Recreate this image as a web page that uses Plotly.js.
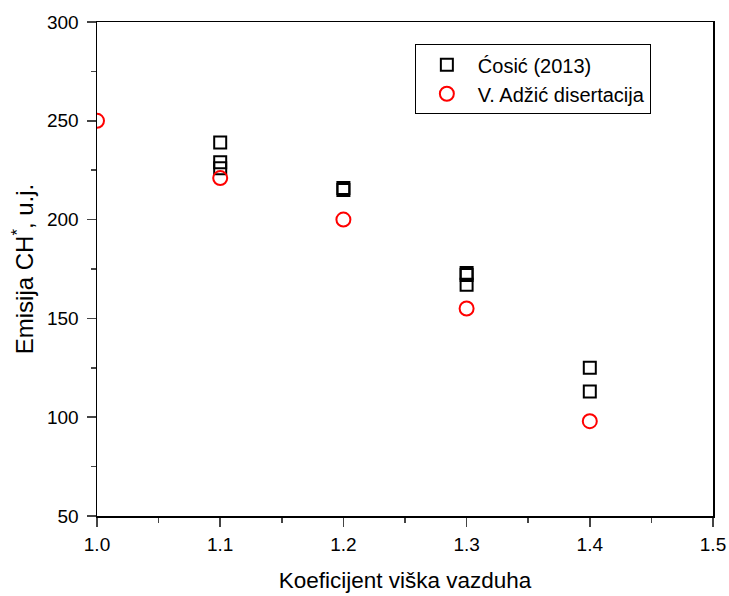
<!DOCTYPE html>
<html>
<head>
<meta charset="utf-8">
<script src="https://cdn.plot.ly/plotly-3.0.1.min.js"></script>
<style>html,body{margin:0;padding:0;background:#fff;}</style>
</head>
<body>
<div id="chart" style="width:729px;height:596px;"></div>
<script>
const cosicX = [1.1, 1.1, 1.1, 1.2, 1.2, 1.3, 1.3, 1.3, 1.4, 1.4];
const cosicY = [239, 229, 226, 216, 215, 173, 172, 167, 125, 113];
const adzicX = [1.0, 1.1, 1.2, 1.3, 1.4];
const adzicY = [250, 221, 200, 155, 98];
const xTicks = [1.0, 1.1, 1.2, 1.3, 1.4, 1.5];
const xTickText = ['1.0', '1.1', '1.2', '1.3', '1.4', '1.5'];
const yTicks = [50, 100, 150, 200, 250, 300];

const traces = [
  {x: cosicX, y: cosicY, name: 'Ćosić (2013)', type: 'scatter', mode: 'markers',
   marker: {symbol: 'square-open', size: 12, color: '#000', line: {width: 2, color: '#000'}}},
  {x: adzicX, y: adzicY, name: 'V. Adžić disertacija', type: 'scatter', mode: 'markers',
   marker: {symbol: 'circle-open', size: 14, color: '#ff0000', line: {width: 2, color: '#ff0000'}}}
];

const layout = {
  width: 729, height: 596,
  margin: {l: 97, r: 16, t: 22, b: 80},
  paper_bgcolor: '#fff', plot_bgcolor: '#fff',
  font: {family: 'Liberation Sans, Arial, sans-serif', color: '#000'},
  showlegend: true,
  legend: {x: 0.516, y: 0.955, xanchor: 'left', yanchor: 'top', bordercolor: '#000', borderwidth: 1,
           font: {size: 20}, bgcolor: '#fff', tracegroupgap: 0, itemwidth: 52},
  xaxis: {range: [1.0, 1.5], tickvals: xTicks, ticktext: xTickText, ticks: 'outside', ticklen: 9, tickwidth: 1.5,
          showline: true, linewidth: 1.5, linecolor: '#000', mirror: true, showgrid: false, zeroline: false,
          tickfont: {size: 19}, ticklabelstandoff: 2,
          minor: {dtick: 0.05, ticks: 'outside', ticklen: 5, tickwidth: 1.5, showgrid: false},
          title: {text: 'Koeficijent viška vazduha', font: {size: 22.5}, standoff: 18}},
  yaxis: {range: [50, 300], tickvals: yTicks, ticks: 'outside', ticklen: 9, tickwidth: 1.5,
          showline: true, linewidth: 1.5, linecolor: '#000', mirror: true, showgrid: false, zeroline: false,
          tickfont: {size: 19}, ticklabelstandoff: 4,
          minor: {dtick: 25, ticks: 'outside', ticklen: 5, tickwidth: 1.5, showgrid: false},
          title: {text: 'Emisija CH<sup>*</sup>, u.j.', font: {size: 24}, standoff: 6}}
};

Plotly.newPlot('chart', traces, layout, {displayModeBar: false, staticPlot: true});
</script>
</body>
</html>
